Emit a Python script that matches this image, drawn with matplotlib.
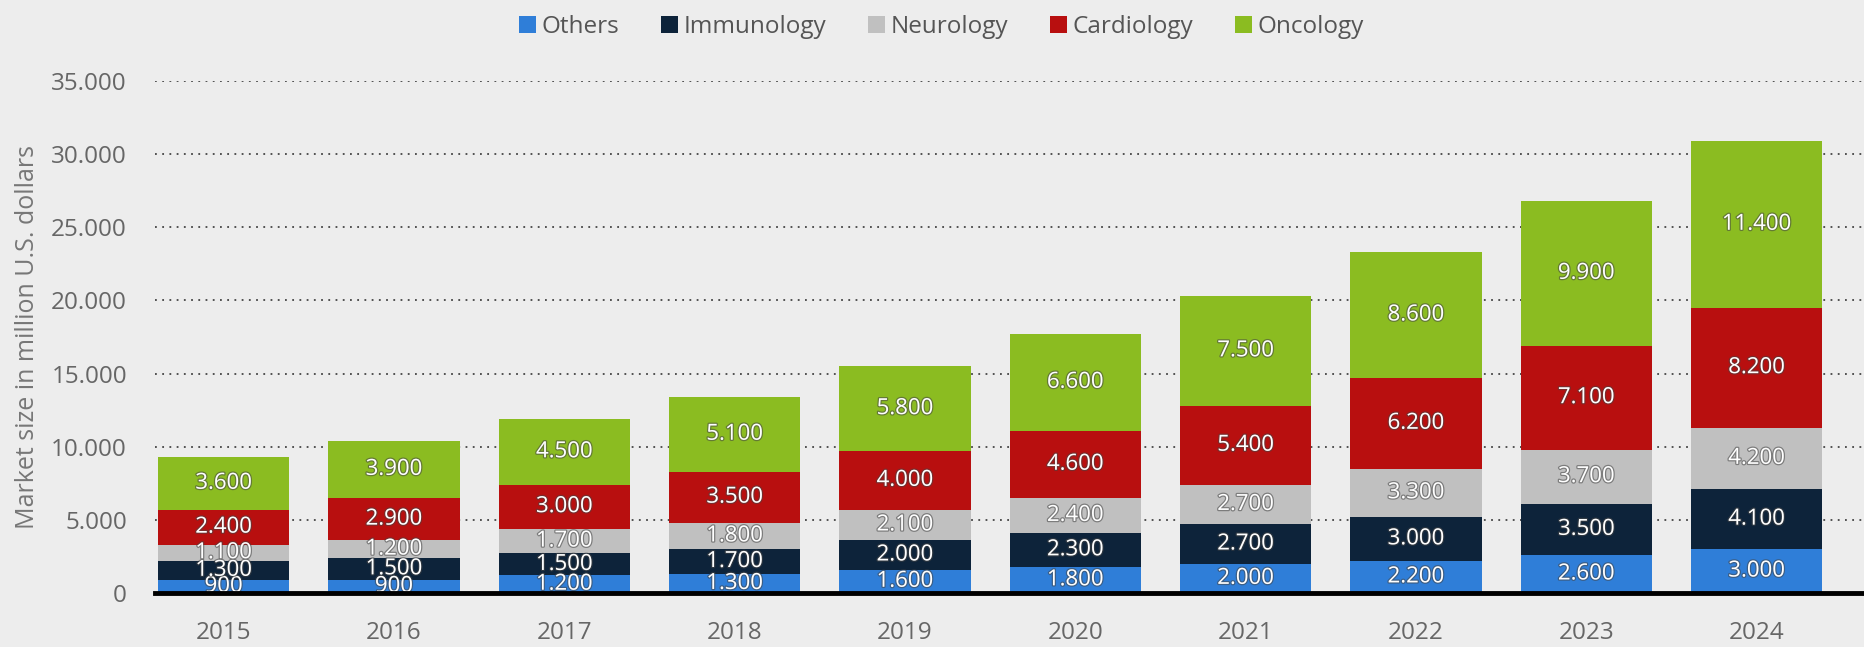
import matplotlib.pyplot as plt
import matplotlib.patheffects as pe
import numpy as np

years = ['2015', '2016', '2017', '2018', '2019', '2020', '2021', '2022', '2023', '2024']
others = [900, 900, 1200, 1300, 1600, 1800, 2000, 2200, 2600, 3000]
immunology = [1300, 1500, 1500, 1700, 2000, 2300, 2700, 3000, 3500, 4100]
neurology = [1100, 1200, 1700, 1800, 2100, 2400, 2700, 3300, 3700, 4200]
cardiology = [2400, 2900, 3000, 3500, 4000, 4600, 5400, 6200, 7100, 8200]
oncology = [3600, 3900, 4500, 5100, 5800, 6600, 7500, 8600, 9900, 11400]

series = [
    ('Others', others, '#2f7ed8'),
    ('Immunology', immunology, '#0d233a'),
    ('Neurology', neurology, '#c0c0c0'),
    ('Cardiology', cardiology, '#b80f0f'),
    ('Oncology', oncology, '#8bbc21'),
]

plt.rcParams['font.family'] = ['Open Sans', 'DejaVu Sans']

bg = '#ededed'
fig = plt.figure(figsize=(18.64, 6.47), dpi=100, facecolor=bg)
ax = fig.add_axes([0.083, 0.0835, 0.917, 0.7915])
ax.set_facecolor(bg)

x = np.arange(len(years))
bottom = np.zeros(len(years))
handles = []
for name, vals, color in series:
    vals = np.array(vals)
    bars = ax.bar(x, vals, 0.77, bottom=bottom, color=color, zorder=3, label=name)
    handles.append(bars)
    for xi, b, v in zip(x, bottom, vals):
        ax.text(xi, b + v / 2, f'{v:,}'.replace(',', '.'), ha='center', va='center',
                fontsize=16, color='white', zorder=4,
                path_effects=[pe.withStroke(linewidth=1.8, foreground='#444444', alpha=0.55)])
    bottom = bottom + vals

ax.set_xlim(-0.405, 9.63)
ax.set_ylim(0, 35000)
ax.set_yticks(range(0, 35001, 5000))
ax.set_yticklabels([f'{v:,}'.replace(',', '.') for v in range(0, 35001, 5000)])
ax.set_xticks(x)
ax.set_xticklabels(years)
ax.tick_params(axis='both', length=0, labelsize=17.5, colors='#666666')
ax.tick_params(axis='y', pad=20)
ax.tick_params(axis='x', pad=20)
ax.yaxis.grid(True, linestyle=(0, (1, 3)), color='#444444', linewidth=1.3, zorder=1)
for s in ax.spines.values():
    s.set_visible(False)
ax.axhline(0, color='black', linewidth=3.5, zorder=5, clip_on=False)

ax.set_ylabel('Market size in million U.S. dollars', fontsize=18, color='#777777', labelpad=8)

leg = fig.legend(handles=handles, loc='upper center', bbox_to_anchor=(0.505, 1.01), ncol=5,
                 frameon=False, fontsize=17.5, handlelength=0.7, handleheight=0.7,
                 handletextpad=0.25, columnspacing=1.7)
for t in leg.get_texts():
    t.set_color('#555555')

fig.savefig('out.png', dpi=100, facecolor=bg)
